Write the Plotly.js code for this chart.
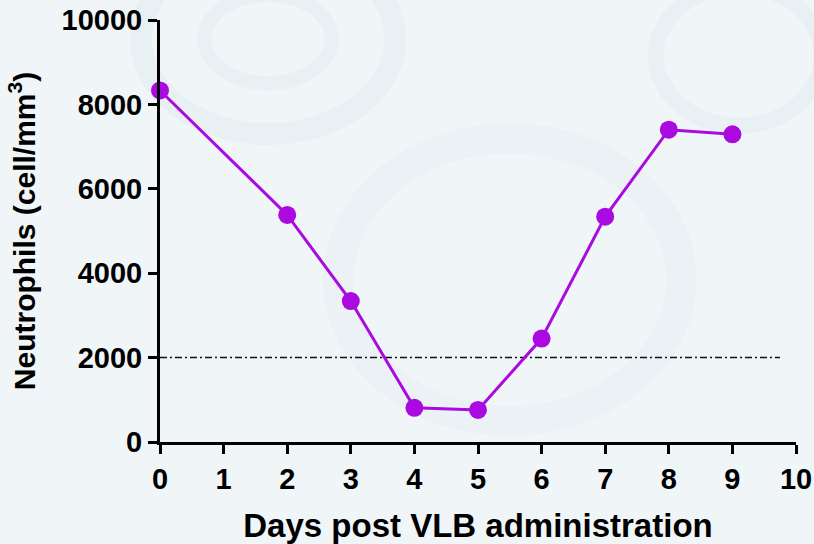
<!DOCTYPE html>
<html><head><meta charset="utf-8">
<script src="https://cdn.plot.ly/plotly-3.0.1.min.js"></script>
<style>html,body{margin:0;padding:0;background:#f0f5f8;}#chart{width:814px;height:544px;}</style>
</head><body><div id="chart"></div>
<script>
var days = [0, 2, 3, 4, 5, 6, 7, 8, 9];
var neutrophils = [8330, 5380, 3340, 810, 760, 2450, 5340, 7400, 7290];
var thresholdX = [0, 9.75];
var thresholdY = [2000, 2000];
var xTicks = [0,1,2,3,4,5,6,7,8,9,10];
var yTicks = [0,2000,4000,6000,8000,10000];

var traces = [
  {x: thresholdX, y: thresholdY, mode: 'lines', type: 'scatter',
   line: {color: '#111', width: 1.5, dash: '7px,3px,2px,3px'}, hoverinfo: 'skip', cliponaxis: false},
  {x: days, y: neutrophils, mode: 'lines+markers', type: 'scatter',
   line: {color: '#aa0ae0', width: 3}, marker: {color: '#aa0ae0', size: 18}, cliponaxis: false}
];

var fontFam = '"Liberation Sans", Arial, sans-serif';
var ring = 'rgb(228,236,241)';
var layout = {
  width: 814, height: 544,
  paper_bgcolor: '#f0f5f8', plot_bgcolor: 'rgba(0,0,0,0)',
  margin: {l: 160, r: 18, t: 20, b: 102},
  showlegend: false,
  font: {family: fontFam, color: '#000'},
  xaxis: {range: [0, 10], tickvals: xTicks, ticktext: xTicks.map(String),
    showgrid: false, zeroline: false, showline: true, linewidth: 3, linecolor: '#000',
    ticks: 'outside', ticklen: 9, tickwidth: 3, tickcolor: '#000',
    tickfont: {size: 29, family: fontFam, weight: 'bold'},
    title: {text: '<b>Days post VLB administration</b>', font: {size: 33, family: fontFam}, standoff: 23}},
  yaxis: {range: [0, 10000], tickvals: yTicks, ticktext: yTicks.map(String),
    showgrid: false, zeroline: false, showline: true, linewidth: 3, linecolor: '#000',
    ticks: 'outside', ticklen: 9, tickwidth: 3, tickcolor: '#000',
    tickfont: {size: 29, family: fontFam, weight: 'bold'},
    title: {text: '<b>Neutrophils (cell/mm<sup>3</sup>)</b>', font: {size: 30, family: fontFam}, standoff: 18}},
  shapes: [
    {type: 'circle', xref: 'paper', yref: 'paper', layer: 'below', opacity: 0.5, x0: -0.03, x1: 0.37, y0: 0.73, y1: 1.18, line: {color: ring, width: 22}},
    {type: 'circle', xref: 'paper', yref: 'paper', layer: 'below', opacity: 0.5, x0: 0.07, x1: 0.27, y0: 0.85, y1: 1.06, line: {color: ring, width: 14}},
    {type: 'circle', xref: 'paper', yref: 'paper', layer: 'below', opacity: 0.4, x0: 0.28, x1: 0.82, y0: 0.05, y1: 0.72, line: {color: ring, width: 30}},
    {type: 'circle', xref: 'paper', yref: 'paper', layer: 'below', opacity: 0.5, x0: 0.78, x1: 1.04, y0: 0.75, y1: 1.08, line: {color: ring, width: 16}}
  ]
};
Plotly.newPlot('chart', traces, layout, {displayModeBar: false, staticPlot: true});
</script></body></html>
